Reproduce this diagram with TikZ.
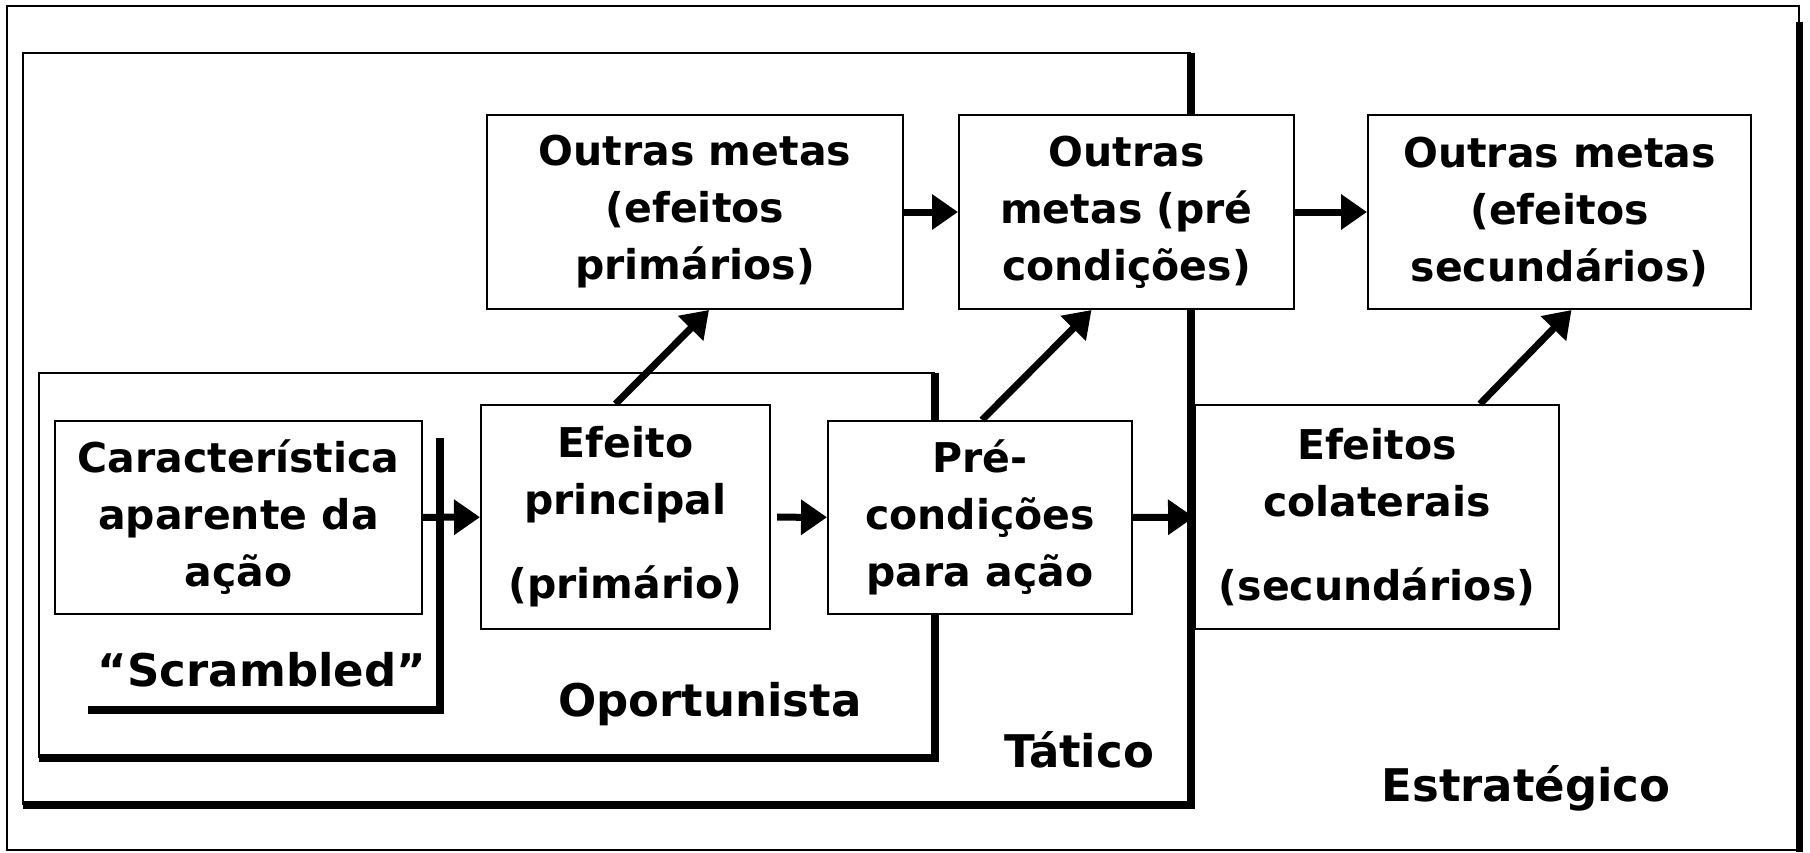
\documentclass[tikz,border=0pt]{standalone}
\usepackage{fontspec}
\setmainfont{DejaVu Sans}
\usetikzlibrary{arrows.meta}
\begin{document}
\begin{tikzpicture}[x=1pt, y=-1pt,
    box/.style = {draw, fill=white, line width=2pt, inner sep=0pt, align=center,
                  font=\fontsize{41}{57}\selectfont\bfseries},
    lbl/.style = {inner sep=0pt, font=\fontsize{45}{60}\selectfont\bfseries},
    thin/.style = {line width=2pt},
    heavy/.style = {line width=7.5pt},
    arr/.style = {line width=7pt, -{Triangle[length=26pt, width=34pt]}}]
    \useasboundingbox (0,0) rectangle (1810,852);
    % frames: estrategico, tatico, oportunista, scrambled
    \draw[thin] (1799,22) -- (1799,6) -- (7,6) -- (7,850) -- (1799,850);
    \draw[heavy] (1799.5,22) -- (1799.5,852);
    \draw[thin] (23,805) -- (23,53) -- (1191,53);
    \draw[heavy] (1191,53) -- (1191,805) -- (23,805);
    \draw[thin] (39,758) -- (39,373) -- (935,373);
    \draw[heavy] (935,373) -- (935,758) -- (39,758);
    \draw[heavy] (440,438) -- (440,710) -- (88,710);
    % boxes
    \node[box, minimum width=416pt, minimum height=194pt] (metaA) at (695,212)
        {Outras metas\\(efeitos\\primários)};
    \node[box, minimum width=335pt, minimum height=194pt] (metaB) at (1126.5,212)
        {Outras\\metas (pré\\condições)};
    \node[box, minimum width=383pt, minimum height=194pt] (metaC) at (1559.5,212)
        {Outras metas\\(efeitos\\secundários)};
    \node[box, minimum width=367pt, minimum height=193pt] (carac) at (238.5,517.5)
        {Característica\\aparente da\\ação};
    \node[box, minimum width=289pt, minimum height=224pt] (princ) at (625.5,517)
        {Efeito\\principal\\[27pt](primário)};
    \node[box, minimum width=304pt, minimum height=193pt] (precond) at (980,517.5)
        {Pré-\\condições\\para ação};
    \node[box, minimum width=364pt, minimum height=224pt] (colat) at (1377,517)
        {Efeitos\\colaterais\\[27pt](secundários)};
    % labels
    \node[lbl] (scr) at (262,670) {“Scrambled”};
    \node[lbl] (oport) at (710,704) {Oportunista};
    \node[lbl] (tat) at (1079,750) {Tático};
    \node[lbl] (estr) at (1526,788) {Estratégico};
    % arrows
    \draw[arr] (metaA) -- (metaB);
    \draw[arr] (metaB) -- (metaC);
    \draw[arr] (carac) -- (princ);
    \draw[arr, shorten <=6pt] (princ) -- (precond);
    \draw[arr] (precond) -- (colat);
    \draw[arr] ([xshift=-10pt]princ.north) -- ([xshift=14pt]metaA.south);
    \draw[arr] ([xshift=2pt]precond.north) -- ([xshift=-35pt]metaB.south);
    \draw[arr] ([xshift=103pt]colat.north) -- ([xshift=12pt]metaC.south);
\end{tikzpicture}
\end{document}
